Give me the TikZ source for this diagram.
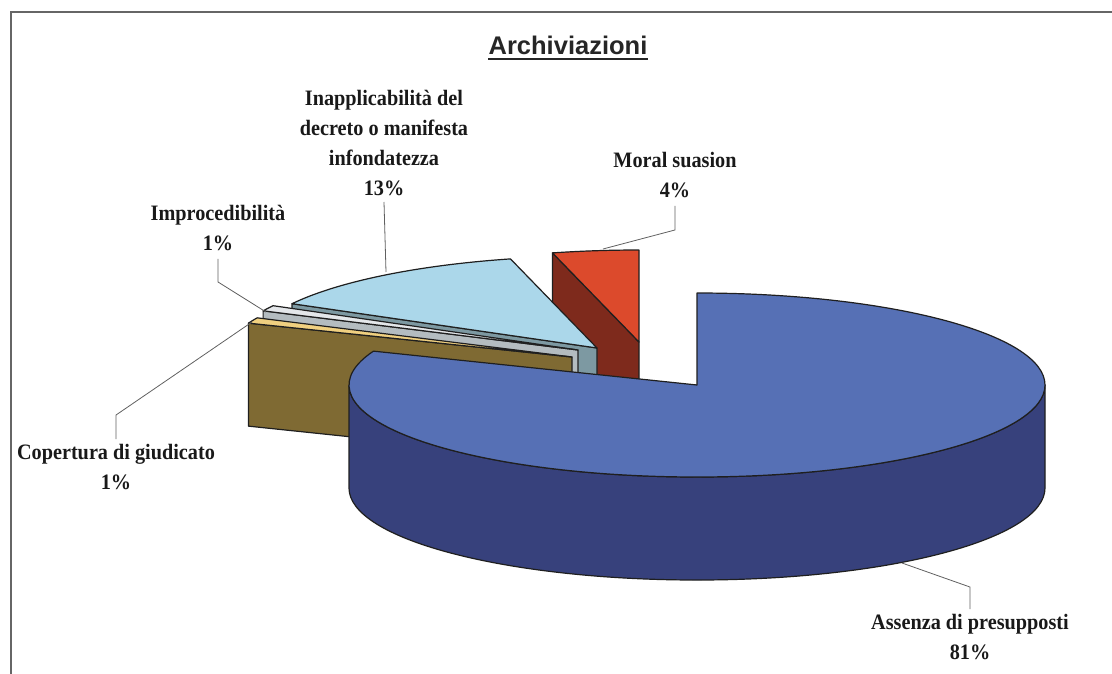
\documentclass[tikz,border=0pt]{standalone}
\usepackage{fontspec}
\setmainfont{Liberation Serif}
\newfontfamily\titlefont{Liberation Sans}
\newfontfamily\lblfont[FakeStretch=0.92]{Liberation Serif}
\usetikzlibrary{calc}
\definecolor{assTop}{HTML}{5670B5}
\definecolor{assSide}{HTML}{37417C}
\definecolor{inaTop}{HTML}{ABD7EA}
\definecolor{inaSide}{HTML}{7D99A2}
\definecolor{morTop}{HTML}{DC4A2C}
\definecolor{morSide}{HTML}{7E2A1C}
\definecolor{impTop}{HTML}{E4E7EA}
\definecolor{impSide}{HTML}{B4BCC0}
\definecolor{copTop}{HTML}{F0D080}
\definecolor{copSide}{HTML}{7F6A33}
\tikzset{
  face/.style={draw=black!88, line width=1.2pt, line join=round},
  leader/.style={draw=gray!75!black, line width=0.8pt},
  lbl/.style={align=center, inner sep=0pt, text=black!90, font=\lblfont\bfseries\fontsize{22}{30}\selectfont},
  titlelbl/.style={inner sep=0pt, text=black!85, font=\titlefont\bfseries\fontsize{25.5}{32}\selectfont}
}

\begin{document}
\begin{tikzpicture}[x=1pt,y=-1pt]
  \useasboundingbox (0,0) rectangle (1112,673);
  \def\rx{348pt}
  \def\ry{92pt}
  \def\pieh{103}
  % frame
  \draw[gray!80!black, line width=2pt] (11,690) -- (11,12) -- (1130,12);
  % slice centres
  \coordinate (Cr) at (639,342);
  \coordinate (Cl) at (597,348);
  \coordinate (Ci) at (578,350);
  \coordinate (Cc) at (572,357);
  \coordinate (Cb) at (697,385);
  \path (Cr) ++(104.4:348pt and 92pt) coordinate (r1);
  \path (Cl) ++(151.2:348pt and 92pt) coordinate (l1);
  \path (Ci) ++(154.8:348pt and 92pt) coordinate (i1);
  \path (Cc) ++(158.4:348pt and 92pt) coordinate (c1);
  % moral suasion
  \draw[face, fill=morSide] (r1) -- (Cr) -- ++(0,\pieh) -- ($(r1)+(0,\pieh)$) -- cycle;
  \draw[face, fill=morTop] (Cr) -- (r1) arc[start angle=104.4, end angle=90, x radius=\rx, y radius=\ry] -- cycle;
  % inapplicabilita
  \draw[face, fill=inaSide] (l1) -- (Cl) -- ++(0,\pieh) -- ($(l1)+(0,\pieh)$) -- cycle;
  \draw[face, fill=inaTop] (Cl) -- (l1) arc[start angle=151.2, end angle=104.4, x radius=\rx, y radius=\ry] -- cycle;
  % improcedibilita
  \draw[face, fill=impSide] (i1) -- (Ci) -- ++(0,\pieh) -- ($(i1)+(0,\pieh)$) -- cycle;
  \draw[face, fill=impTop] (Ci) -- (i1) arc[start angle=154.8, end angle=151.2, x radius=\rx, y radius=\ry] -- cycle;
  % copertura di giudicato
  \draw[face, fill=copSide] (c1) -- (Cc) -- ++(0,\pieh) -- ($(c1)+(0,\pieh)$) -- cycle;
  \draw[face, fill=copTop] (Cc) -- (c1) arc[start angle=158.4, end angle=154.8, x radius=\rx, y radius=\ry] -- cycle;
  % assenza di presupposti
  \draw[face, fill=assSide] ($(Cb)+(\rx,0pt)$) arc[start angle=0, end angle=-180, x radius=\rx, y radius=\ry]
    -- ++(0,\pieh) arc[start angle=-180, end angle=0, x radius=\rx, y radius=\ry] -- cycle;
  \draw[face, fill=assTop] (Cb) -- ++(90:348pt and 92pt) arc[start angle=90, end angle=-201.6, x radius=\rx, y radius=\ry] -- cycle;

  % title and labels
  \node[titlelbl, anchor=base] (title) at (568,54) {Archiviazioni};
  \draw[black!85, line width=2.5pt] ([yshift=-5pt]title.base west) -- ([yshift=-5pt]title.base east);
  \node[lbl] (inap) at (384,143) {Inapplicabilità del\\decreto o manifesta\\infondatezza\\13\%};
  \node[lbl] (moral) at (675,175) {Moral suasion\\4\%};
  \node[lbl] (improc) at (218,228) {Improcedibilità\\1\%};
  \node[lbl] (copert) at (116,467) {Copertura di giudicato\\1\%};
  \node[lbl] (assenza) at (970,637) {Assenza di presupposti\\81\%};

  % leader lines
  \coordinate (inapTip) at (386,272);
  \coordinate (moralTip) at (603,249);
  \coordinate (improcTip) at (266,312);
  \coordinate (copertTip) at (252,322);
  \coordinate (assenzaTip) at (902,563);
  \draw[leader] ([yshift=-6pt]inap.south) -- (inapTip);
  \draw[leader] ([yshift=-8pt]moral.south) -- ++(0,24) -- (moralTip);
  \draw[leader] ([yshift=-8pt]improc.south) -- ++(0,23) -- (improcTip);
  \draw[leader] ([yshift=5pt]copert.north) -- ++(0,-24) -- (copertTip);
  \draw[leader] ([yshift=5pt]assenza.north) -- ++(0,-22) -- (assenzaTip);
\end{tikzpicture}
\end{document}
